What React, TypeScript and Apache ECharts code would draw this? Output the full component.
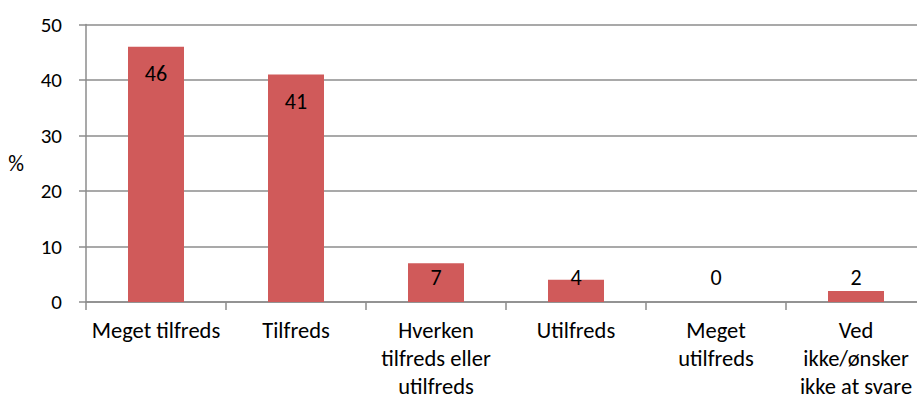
import React, { useEffect, useRef } from "react";
import * as echarts from "echarts";

const categories = [
  "Meget tilfreds",
  "Tilfreds",
  "Hverken\ntilfreds eller\nutilfreds",
  "Utilfreds",
  "Meget\nutilfreds",
  "Ved\nikke/ønsker\nikke at svare",
];
const values = [46, 41, 7, 4, 0, 2];
const yTicks = { min: 0, max: 50, interval: 10 };
const yName = "%";

const FONT = "Carlito, Lato, 'Open Sans', sans-serif";

export default function App() {
  const ref = useRef<HTMLDivElement>(null);
  useEffect(() => {
    if (!ref.current) return;
    const chart = echarts.init(ref.current, undefined, { renderer: "svg" });
    const axisLine = { show: true, lineStyle: { color: "#8c8c8c", width: 1.5 } };
    chart.setOption({
      animation: false,
      textStyle: { fontFamily: FONT },
      grid: { left: 86, top: 24.5, bottom: 98, width: 840, outerBoundsMode: "none", containLabel: false },
      xAxis: {
        type: "category",
        data: categories,
        axisLine,
        axisTick: { show: true, length: 8, lineStyle: { color: "#8c8c8c", width: 1.5 } },
        axisLabel: {
          interval: 0,
          color: "#000",
          fontSize: 22.5,
          fontFamily: FONT,
          lineHeight: 28,
          margin: 14,
        },
        splitLine: { show: false },
      },
      yAxis: {
        type: "value",
        min: yTicks.min,
        max: yTicks.max,
        interval: yTicks.interval,
        name: yName,
        nameLocation: "middle",
        nameRotate: 0,
        nameGap: 62,
        nameTextStyle: { color: "#000", fontSize: 22, fontFamily: FONT },
        axisLine,
        axisTick: { show: true, length: 7, lineStyle: { color: "#8c8c8c", width: 1.5 } },
        axisLabel: { color: "#000", fontSize: 21, fontFamily: FONT, margin: 24 },
        splitLine: { show: true, lineStyle: { color: "#8c8c8c", width: 1.5 } },
      },
      series: [
        {
          type: "bar",
          barWidth: "40%",
          itemStyle: { color: "#d05a5a" },
          data: values.map((v) => ({
            value: v,
            label:
              v >= 10
                ? { position: "insideTop", distance: 16 }
                : { position: "insideBottom", distance: 14 },
          })),
          label: {
            show: true,
            color: "#000",
            fontSize: 22,
            fontFamily: FONT,
          },
        },
      ],
    });
    return () => chart.dispose();
  }, []);
  return (
    <div
      ref={ref}
      style={{ position: "absolute", left: 0, top: 0, width: 917, height: 400 }}
    />
  );
}
